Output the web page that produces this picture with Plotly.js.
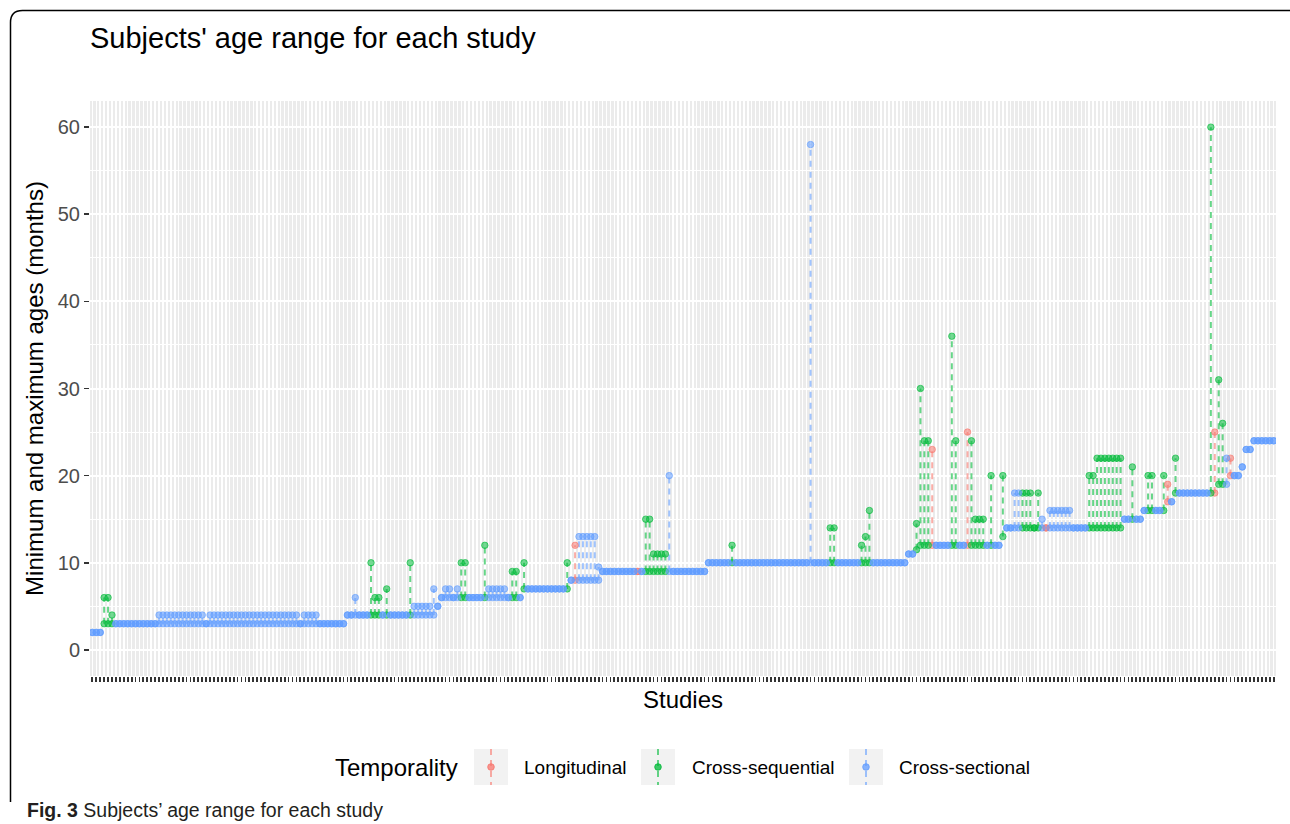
<!DOCTYPE html>
<html><head><meta charset="utf-8">
<script src="https://cdn.plot.ly/plotly-3.0.1.min.js"></script>
<style>html,body{margin:0;padding:0;background:#fff;} #chart{width:1290px;height:824px;}</style>
</head><body><div id="chart"></div>
<script>
// ---- data: one entry per study, in plotted order ----
const minAge = [
 2,2,2,3,3,3,3,3,3,3,
 3,3,3,3,3,3,3,3,3,3,
 3,3,3,3,3,3,3,3,3,3,
 3,3,3,3,3,3,3,3,3,3,
 3,3,3,3,3,3,3,3,3,3,
 3,3,3,3,3,3,3,3,3,3,
 3,3,3,3,3,4,4,4,4,4,
 4,4,4,4,4,4,4,4,4,4,
 4,4,4,4,4,4,4,4,5,6,
 6,6,6,6,6,6,6,6,6,6,
 6,6,6,6,6,6,6,6,6,6,
 7,7,7,7,7,7,7,7,7,7,
 7,7,8,8,8,8,8,8,8,8,
 9,9,9,9,9,9,9,9,9,9,
 9,9,9,9,9,9,9,9,9,9,
 9,9,9,9,9,9,9,10,10,10,
 10,10,10,10,10,10,10,10,10,10,
 10,10,10,10,10,10,10,10,10,10,
 10,10,10,10,10,10,10,10,10,10,
 10,10,10,10,10,10,10,10,10,10,
 10,10,10,10,10,10,10,10,11,11,
 11.5,12,12,12,12,12,12,12,12,12,
 12,12,12,12,12,12,12,12,12,12,
 12,12,13,14,14,14,14,14,14,14,
 14,14,14,14,14,14,14,14,14,14,
 14,14,14,14,14,14,14,14,14,14,
 14,14,14,15,15,15,15,15,16,16,
 16,16,16,16,17,17,18,18,18,18,
 18,18,18,18,18,18,18,19,19,19,
 20,20,20,21,23,23,24,24,24,24,24,24
];
const maxAge = [
 2,2,2,6,6,4,3,3,3,3,
 3,3,3,3,3,3,3,4,4,4,
 4,4,4,4,4,4,4,4,4,3,
 4,4,4,4,4,4,4,4,4,4,
 4,4,4,4,4,4,4,4,4,4,
 4,4,4,3,4,4,4,4,3,3,
 3,3,3,3,3,4,4,6,4,4,
 4,10,6,6,4,7,4,4,4,4,
 4,10,5,5,5,5,5,7,5,6,
 7,7,6,7,10,10,6,6,6,6,
 12,7,7,7,7,7,6,9,9,6,
 10,7,7,7,7,7,7,7,7,7,
 7,10,8,12,13,13,13,13,13,9.5,
 9,9,9,9,9,9,9,9,9,9,
 9,15,15,11,11,11,11,20,9,9,
 9,9,9,9,9,9,9,10,10,10,
 10,10,10,12,10,10,10,10,10,10,
 10,10,10,10,10,10,10,10,10,10,
 10,10,10,58,10,10,10,10,14,14,
 10,10,10,10,10,10,12,13,16,10,
 10,10,10,10,10,10,10,10,11,11,
 14.5,30,24,24,23,12,12,12,12,36,
 24,12,12,25,24,15,15,15,12,20,
 12,12,20,14,14,18,18,18,18,18,
 14,18,15,14,16,16,16,16,16,16,
 14,14,14,14,20,20,22,22,22,22,
 22,22,22,15,15,21,15,15,16,20,
 20,16,16,20,19,17,22,18,18,18,
 18,18,18,18,18,60,25,31,26,22,
 22,20,20,21,23,23,24,24,24,24,24,24
];
// L = Longitudinal, S = Cross-sequential, C = Cross-sectional
const temporality = [
 'C','C','C','S','S','S','C','C','C','C',
 'C','C','C','C','C','C','C','C','C','C',
 'C','C','C','C','C','C','C','C','C','C',
 'C','C','C','C','C','C','C','C','C','C',
 'C','C','C','C','C','C','C','C','C','C',
 'C','C','C','C','C','C','C','C','C','C',
 'C','C','C','C','C','C','C','C','C','C',
 'C','S','S','S','C','S','C','C','C','C',
 'C','S','C','C','C','C','C','C','C','C',
 'C','C','C','C','S','S','C','C','C','C',
 'S','C','C','C','C','C','C','S','S','C',
 'S','C','C','C','C','C','C','C','C','C',
 'C','S','C','L','C','C','C','C','C','C',
 'C','C','C','C','C','C','C','C','C','L',
 'C','S','S','S','S','S','S','C','C','C',
 'C','C','C','C','C','C','C','C','C','C',
 'C','C','C','S','C','C','C','C','C','C',
 'C','C','C','C','C','C','C','C','C','C',
 'C','C','C','C','C','C','C','C','S','S',
 'C','C','C','C','C','C','S','S','S','C',
 'C','C','C','C','C','C','C','C','C','C',
 'S','S','S','S','L','C','C','C','C','S',
 'S','C','C','L','S','S','S','S','C','S',
 'C','C','S','C','C','C','C','S','S','S',
 'S','S','C','L','C','C','C','C','C','C',
 'C','C','C','C','S','S','S','S','S','S',
 'S','S','S','C','C','S','C','C','C','S',
 'S','C','C','S','L','C','S','C','C','C',
 'C','C','C','C','C','S','L','S','S','C',
 'L','C','C','C','C','C','C','C','C','C','C','C'
];
const temporalityCodes  = ['L','S','C'];
const temporalityLabels = ['Longitudinal','Cross-sequential','Cross-sectional'];
const yTickValues = [0,10,20,30,40,50,60];
const yTickLabels = ['0','10','20','30','40','50','60'];

// ---- styling ----
const hue = {L:[248,118,109], S:[0,186,56], C:[97,156,255]};
const rgba = (c,a) => `rgba(${c[0]},${c[1]},${c[2]},${a})`;
const FONT = 'Liberation Sans, Arial, Helvetica, sans-serif';
const W = 1290, H = 824, M = {l:90, r:14, t:101, b:148};
const pw = W - M.l - M.r, ph = H - M.t - M.b;
const px = x => (x - M.l) / pw;          // page pixel -> paper x
const py = y => (H - M.b - y) / ph;      // page pixel -> paper y

const n = minAge.length;
const traces = [];
temporalityCodes.forEach(code => {
  const lx = [], ly = [];
  for (let i = 0; i < n; i++) {
    if (temporality[i] !== code) continue;
    lx.push(i + 1, i + 1, null); ly.push(minAge[i], maxAge[i], null);
  }
  traces.push({type:'scatter', mode:'lines', x:lx, y:ly, hoverinfo:'skip', showlegend:false,
    line:{color:rgba(hue[code],0.6), width:2, dash:'6px,5px'}});
});
temporalityCodes.forEach(code => {
  const xs = [], ys = [];
  for (let i = 0; i < n; i++) {
    if (temporality[i] !== code) continue;
    xs.push(i + 1, i + 1); ys.push(minAge[i], maxAge[i]);
  }
  traces.push({type:'scatter', mode:'markers', x:xs, y:ys, showlegend:false,
    marker:{size:6.5, color:rgba(hue[code],0.55), line:{color:rgba(hue[code],0.6), width:1}}});
});

// ---- legend drawn like a ggplot key ----
const keyBoxes = [474, 641, 849], keyText = [522, 690, 897];
const shapes = [], annotations = [];
temporalityCodes.forEach((code, k) => {
  const x0 = keyBoxes[k], cx = x0 + 17;
  shapes.push({type:'rect', xref:'paper', yref:'paper', x0:px(x0), x1:px(x0+34), y0:py(785), y1:py(749),
    fillcolor:'#F2F2F2', line:{width:0}});
  shapes.push({type:'line', xref:'paper', yref:'paper', x0:px(cx), x1:px(cx), y0:py(749), y1:py(785),
    line:{color:rgba(hue[code],0.6), width:2, dash:'6px,5px'}});
  shapes.push({type:'circle', xref:'paper', yref:'paper', xsizemode:'pixel', ysizemode:'pixel',
    xanchor:px(cx), yanchor:py(767), x0:-3.3, x1:3.3, y0:-3.3, y1:3.3,
    fillcolor:rgba(hue[code],0.75), line:{color:rgba(hue[code],0.8), width:1}});
  annotations.push({xref:'paper', yref:'paper', x:px(keyText[k]), y:py(767), xanchor:'left', yanchor:'middle',
    showarrow:false, text:temporalityLabels[k], font:{family:FONT, size:19, color:'#000'}});
});
annotations.push({xref:'paper', yref:'paper', x:px(333), y:py(767), xanchor:'left', yanchor:'middle',
  showarrow:false, text:'Temporality', font:{family:FONT, size:24, color:'#000'}});
annotations.push({xref:'paper', yref:'paper', x:px(25), y:py(810), xanchor:'left', yanchor:'middle',
  showarrow:false, text:'<b>Fig. 3</b> Subjects’ age range for each study',
  font:{family:'Liberation Sans Narrow, Liberation Sans, Arial, sans-serif', size:19.5, color:'#231F20'}});

// outer rounded frame
const fx0 = 10.5, fy0 = 10.5, fx1 = 1300, fy1 = 802, r = 12;
shapes.push({type:'path', xref:'paper', yref:'paper', line:{color:'#000', width:1.5},
  path:`M ${px(fx0)} ${py(fy1)} L ${px(fx0)} ${py(fy0+r)} Q ${px(fx0)} ${py(fy0)} ${px(fx0+r)} ${py(fy0)} L ${px(fx1)} ${py(fy0)}`});

const layout = {
  width:W, height:H, margin:M, paper_bgcolor:'#fff', plot_bgcolor:'#EBEBEB',
  font:{family:FONT, color:'#000'},
  title:{text:"Subjects' age range for each study", font:{family:FONT, size:29, color:'#000'},
    xref:'container', yref:'container', x:90/W, xanchor:'left', y:1-38/H, yanchor:'middle'},
  xaxis:{range:[0.4, n+0.6], tickmode:'linear', tick0:1, dtick:1, showticklabels:false,
    ticks:'outside', ticklen:5, tickwidth:1.8, tickcolor:'#333333',
    showgrid:true, gridcolor:'#FFFFFF', gridwidth:1.5, zeroline:false, showline:false, fixedrange:true,
    title:{text:'Studies', font:{family:FONT, size:24, color:'#000'}, standoff:10}},
  yaxis:{range:[-3, 63], tickmode:'array', tickvals:yTickValues, ticktext:yTickLabels,
    ticks:'outside', ticklen:5, tickwidth:1.6, tickcolor:'#333333',
    tickfont:{family:FONT, size:20, color:'#4D4D4D'},
    showgrid:true, gridcolor:'#FFFFFF', gridwidth:2, zeroline:false, showline:false, fixedrange:true,
    minor:{tickmode:'linear', tick0:0, dtick:5, showgrid:true, gridcolor:'#FFFFFF', gridwidth:1, ticks:''},
    title:{text:'Minimum and maximum ages (months)', font:{family:FONT, size:24, color:'#000'}, standoff:7}},
  showlegend:false, shapes:shapes, annotations:annotations
};
Plotly.newPlot('chart', traces, layout, {displayModeBar:false, staticPlot:true});
</script></body></html>
